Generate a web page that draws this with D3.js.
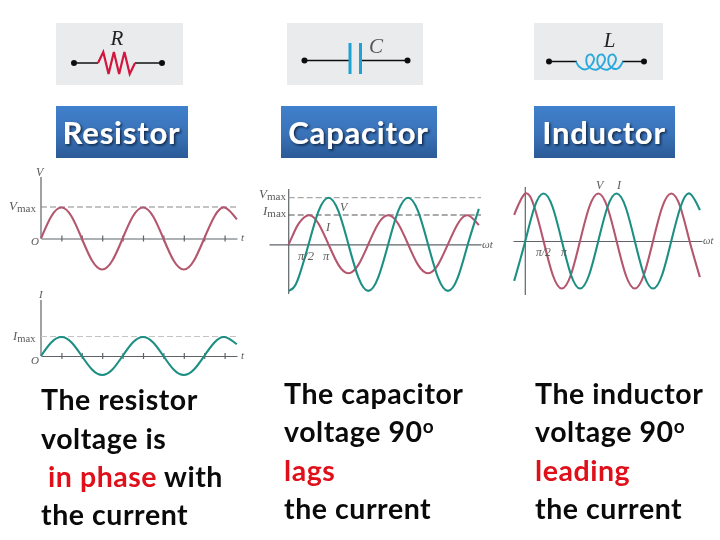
<!DOCTYPE html>
<html>
<head>
<meta charset="utf-8">
<script src="https://cdn.jsdelivr.net/npm/d3@7"></script>
<style>
  html, body { margin: 0; padding: 0; background: #fff; }
  svg { display: block; }
  .axis path, .axis line { stroke: #5f6468; stroke-width: 1.2; }
  .math { font-family: "Liberation Serif", serif; font-style: italic; fill: #5a5a5a; }
  .upright { font-style: normal; }
  .caption { font-family: Lato, sans-serif; font-weight: 700; font-size: 28.5px; letter-spacing: 0.55px; fill: #0a0a0a; }
  .hot { fill: #e0101a; }
  .title { font-family: Lato, sans-serif; font-weight: 700; font-size: 31px; letter-spacing: 0.8px; fill: #fff; text-anchor: middle; }
</style>
</head>
<body>
<div id="chart"></div>
<script>
// wave readings, in degrees of wt and fractions of the peak
const resistorAngle = [0, 45, 90, 135, 180, 225, 270, 315, 360, 405, 450, 495, 540, 585, 630, 675, 720, 765, 810, 864];
const resistorVolt = [0, 0.71, 1, 0.71, 0, -0.71, -1, -0.71, 0, 0.71, 1, 0.71, 0, -0.71, -1, -0.71, 0, 0.71, 1, 0.62];
const resistorAmp = [0, 0.71, 1, 0.71, 0, -0.71, -1, -0.71, 0, 0.71, 1, 0.71, 0, -0.71, -1, -0.71, 0, 0.71, 1, 0.62];
const resistorTicks = [90, 180, 270, 360, 450, 540, 630, 720, 810];

const capacitorAngle = [0, 20, 45, 90, 135, 180, 225, 270, 315, 360, 405, 450, 495, 540, 585, 630, 675, 720, 765, 810, 860];
const capacitorAmp = [0, 0.34, 0.71, 1, 0.71, 0, -0.71, -1, -0.71, 0, 0.71, 1, 0.71, 0, -0.71, -1, -0.71, 0, 0.71, 1, 0.66];
const capacitorVolt = [-1, -0.94, -0.71, 0, 0.71, 1, 0.71, 0, -0.71, -1, -0.71, 0, 0.71, 1, 0.71, 0, -0.71, -1, -0.71, 0, 0.76];

const inductorAngle = [-55, 0, 45, 90, 135, 180, 225, 270, 315, 360, 405, 450, 495, 540, 585, 630, 675, 720, 765, 810, 861];
const inductorVolt = [0.55, 1, 0.71, 0, -0.71, -1, -0.71, 0, 0.71, 1, 0.71, 0, -0.71, -1, -0.71, 0, 0.71, 1, 0.71, 0, -0.76];
const inductorAmp = [-0.84, 0, 0.71, 1, 0.71, 0, -0.71, -1, -0.71, 0, 0.71, 1, 0.71, 0, -0.71, -1, -0.71, 0, 0.71, 1, 0.65];

const zigzag = [0, 1, -1, 1, -1, 1, -1, 0];
const coilAlong = [0, 3, 9, 15, 18, 15, 11, 11, 15, 21, 26, 29, 26, 22, 22, 26, 32, 37, 40, 37, 33, 33, 37, 42, 47];
const coilHeight = [0, -5, -8, -4, 3, 7, 5, -3, -7, -8, -4, 3, 7, 5, -3, -7, -8, -4, 3, 7, 5, -3, -7, -7, 0];

const titles = ["Resistor", "Capacitor", "Inductor"];
const symbols = ["R", "C", "L"];

const svg = d3.select("#chart").append("svg").attr("width", 720).attr("height", 540);
const defs = svg.append("defs");

const grad = defs.append("linearGradient").attr("id", "btn").attr("x1", 0).attr("x2", 0).attr("y1", 0).attr("y2", 1);
grad.append("stop").attr("offset", "0%").attr("stop-color", "#4080cc");
grad.append("stop").attr("offset", "55%").attr("stop-color", "#3a72b8");
grad.append("stop").attr("offset", "100%").attr("stop-color", "#2b5a96");

const soft = defs.append("filter").attr("id", "soft");
soft.append("feGaussianBlur").attr("stdDeviation", 0.45);

const shadow = defs.append("filter").attr("id", "shadow").attr("x", "-10%").attr("y", "-20%").attr("width", "120%").attr("height", "150%");
shadow.append("feDropShadow").attr("dx", 1.5).attr("dy", 1.5).attr("stdDeviation", 0.8)
  .attr("flood-color", "#10243f").attr("flood-opacity", 0.95);

// ---- component panels
const panels = [
  {x: 56, y: 23, w: 127, h: 62, wire: 63, a: 74, b: 162},
  {x: 287, y: 23, w: 136, h: 62, wire: 60.5, a: 304.5, b: 407.5},
  {x: 534, y: 23, w: 129, h: 57, wire: 61.5, a: 549, b: 644}
];
const symbolPos = [[117, 45], [376, 53], [609.5, 47]];

const icons = svg.append("g").attr("filter", "url(#soft)");
panels.forEach(function (p, i) {
  icons.append("rect").attr("x", p.x).attr("y", p.y).attr("width", p.w).attr("height", p.h).attr("fill", "#e9ebec");
  icons.append("line").attr("x1", p.a).attr("x2", p.b).attr("y1", p.wire).attr("y2", p.wire)
    .attr("stroke", "#111").attr("stroke-width", 1.3);
  icons.selectAll(null).data([p.a, p.b]).join("circle").attr("class", "dot")
    .attr("cx", d => d).attr("cy", p.wire).attr("r", 3).attr("fill", "#111");
  icons.append("text").attr("class", "math").attr("x", symbolPos[i][0]).attr("y", symbolPos[i][1])
    .attr("text-anchor", "middle").attr("font-size", 21).style("fill", i == 1 ? "#555" : "#222").text(symbols[i]);
});

// resistor zigzag
const zigX = d3.scaleLinear().domain([0, zigzag.length - 1]).range([98, 135]);
const zigY = d3.scaleLinear().domain([-1, 1]).range([74, 52]);
icons.append("rect").attr("x", 98).attr("y", 60).attr("width", 37).attr("height", 6).attr("fill", "#e9ebec");
icons.append("path").datum(zigzag)
  .attr("d", d3.line().x((d, i) => zigX(i)).y(d => zigY(d)))
  .attr("fill", "none").attr("stroke", "#d3123c").attr("stroke-width", 2.2);

// capacitor plates
const capGapX = d3.scaleLinear().domain([0, 1]).range([350, 360.5]);
icons.append("rect").attr("x", 351).attr("y", 58).attr("width", 9).attr("height", 5).attr("fill", "#e9ebec");
icons.selectAll(null).data([0, 1]).join("line")
  .attr("x1", d => capGapX(d)).attr("x2", d => capGapX(d)).attr("y1", 43).attr("y2", 74)
  .attr("stroke", "#1fa2d4").attr("stroke-width", 3);

// inductor coil
const coilX = d3.scaleLinear().domain([0, 47]).range([576, 623]);
const coilY = d3.scaleLinear().domain([-8, 8]).range([69.5, 53.5]);
icons.append("rect").attr("x", 577).attr("y", 59).attr("width", 45).attr("height", 5).attr("fill", "#e9ebec");
icons.append("path").datum(coilAlong.map((d, i) => [d, coilHeight[i]]))
  .attr("d", d3.line().x(d => coilX(d[0])).y(d => coilY(d[1])).curve(d3.curveCatmullRom))
  .attr("fill", "none").attr("stroke", "#2aa9dc").attr("stroke-width", 1.9);

// ---- blue title buttons
const buttons = [{x: 56, w: 132}, {x: 281, w: 156}, {x: 534, w: 141}];
buttons.forEach(function (b, i) {
  svg.append("rect").attr("x", b.x).attr("y", 106).attr("width", b.w).attr("height", 52).attr("fill", "url(#btn)");
  svg.append("text").attr("class", "title").attr("x", b.x + b.w / 2 - 0.5).attr("y", 144)
    .attr("filter", "url(#shadow)").text(titles[i]);
});

// ---- wave plots
const plots = svg.append("g").attr("filter", "url(#soft)");
const red = "#b4566e", green = "#1f8f84";

function drawPlot(o) {
  const x = d3.scaleLinear().domain([0, 90]).range([o.x0, o.x0 + o.quarter]);
  const axisScale = d3.scaleLinear().domain([x.invert(o.axisLeft), x.invert(o.axisRight)]).range([o.axisLeft, o.axisRight]);
  const axis = d3.axisBottom(axisScale).tickFormat("").tickSize(o.ticks ? 3 : 0).tickSizeOuter(0)
    .tickValues(o.ticks || []);
  plots.append("g").attr("class", "axis").attr("transform", "translate(0," + o.y0 + ")").call(axis);
  plots.selectAll(".axis .tick line").attr("y1", -3);
  plots.append("line").attr("x1", o.x0).attr("x2", o.x0).attr("y1", o.axisTop).attr("y2", o.axisBottom)
    .attr("stroke", "#5f6468").attr("stroke-width", 1.2);
  o.dashes.forEach(function (d) {
    plots.append("line").attr("x1", o.x0).attr("x2", o.axisRight)
      .attr("y1", d.y).attr("y2", d.y)
      .attr("stroke", d.color).attr("stroke-width", 1.2).attr("stroke-dasharray", "6 3");
  });
  o.series.forEach(function (s) {
    const sy = d3.scaleLinear().domain([-1, 1]).range([o.y0 + s.amp, o.y0 - s.amp]);
    plots.append("path").datum(s.values.map((v, i) => [s.angle[i], v]))
      .attr("d", d3.line().x(d => x(d[0])).y(d => sy(d[1])).curve(d3.curveNatural))
      .attr("fill", "none").attr("stroke", s.color).attr("stroke-width", 2.1);
  });
}

drawPlot({x0: 41, y0: 238.5, quarter: 20.4, axisLeft: 41, axisRight: 237, axisTop: 177, axisBottom: 238.5,
  ticks: resistorTicks, dashes: [{y: 207, color: "#8a8a8a"}],
  series: [{angle: resistorAngle, values: resistorVolt, amp: 31, color: red}]});
drawPlot({x0: 41, y0: 356, quarter: 20.4, axisLeft: 41, axisRight: 237, axisTop: 300, axisBottom: 356,
  ticks: resistorTicks, dashes: [{y: 336.5, color: "#c4c4c4"}],
  series: [{angle: resistorAngle, values: resistorAmp, amp: 19, color: green}]});
drawPlot({x0: 288.7, y0: 244.3, quarter: 19.9, axisLeft: 269, axisRight: 481, axisTop: 189, axisBottom: 294,
  dashes: [{y: 197.7, color: "#a8a8a8"}, {y: 215, color: "#555"}],
  series: [{angle: capacitorAngle, values: capacitorAmp, amp: 29, color: red},
           {angle: capacitorAngle, values: capacitorVolt, amp: 46.6, color: green}]});
drawPlot({x0: 525.3, y0: 241, quarter: 18.25, axisLeft: 513, axisRight: 702, axisTop: 187, axisBottom: 295,
  dashes: [],
  series: [{angle: inductorAngle, values: inductorVolt, amp: 47.5, color: red},
           {angle: inductorAngle, values: inductorAmp, amp: 47.5, color: green}]});

// axis labels
function mathLabel(x, y, main, sub, size) {
  const t = plots.append("text").attr("class", "math").attr("x", x).attr("y", y).attr("font-size", size);
  t.append("tspan").text(main);
  if (sub) t.append("tspan").attr("class", "upright").attr("dy", 2).attr("font-size", size * 0.85).text(sub);
}
mathLabel(36, 176, "V", null, 12);
mathLabel(9, 210, "V", "max", 13);
mathLabel(31, 245, "O", null, 11);
mathLabel(241, 241, "t", null, 11);
mathLabel(39, 298, "I", null, 11);
mathLabel(13, 340, "I", "max", 12.5);
mathLabel(31, 364, "O", null, 11);
mathLabel(241, 359, "t", null, 11);

mathLabel(259, 198, "V", "max", 13);
mathLabel(263, 215, "I", "max", 13);
mathLabel(340, 211, "V", null, 12);
mathLabel(326, 231, "I", null, 12);
mathLabel(298, 260, "π/2", null, 12.5);
mathLabel(323, 260, "π", null, 12.5);
mathLabel(482, 248, "ωt", null, 11);

mathLabel(596, 189, "V", null, 12);
mathLabel(617, 189, "I", null, 12);
mathLabel(536, 256, "π/2", null, 11.5);
mathLabel(561, 256, "π", null, 11.5);
mathLabel(703, 244, "ωt", null, 10.5);

// ---- captions
function caption(x, y, parts) {
  const t = svg.append("text").attr("class", "caption").attr("x", x).attr("y", y);
  parts.forEach(function (p) {
    const s = t.append("tspan").text(p.text);
    if (p.hot) s.attr("class", "hot");
    if (p.sup) s.attr("dy", -9).attr("font-size", 19);
  });
}
caption(41, 410, [{text: "The resistor"}]);
caption(41, 449, [{text: "voltage is"}]);
caption(48, 487, [{text: "in phase", hot: true}, {text: " with"}]);
caption(41, 525, [{text: "the current"}]);

caption(284, 404, [{text: "The capacitor"}]);
caption(284, 442, [{text: "voltage 90"}, {text: "o", sup: true}]);
caption(284, 481, [{text: "lags", hot: true}]);
caption(284, 519, [{text: "the current"}]);

caption(535, 404, [{text: "The inductor"}]);
caption(535, 442, [{text: "voltage 90"}, {text: "o", sup: true}]);
caption(535, 481, [{text: "leading", hot: true}]);
caption(535, 519, [{text: "the current"}]);
</script>
</body>
</html>
